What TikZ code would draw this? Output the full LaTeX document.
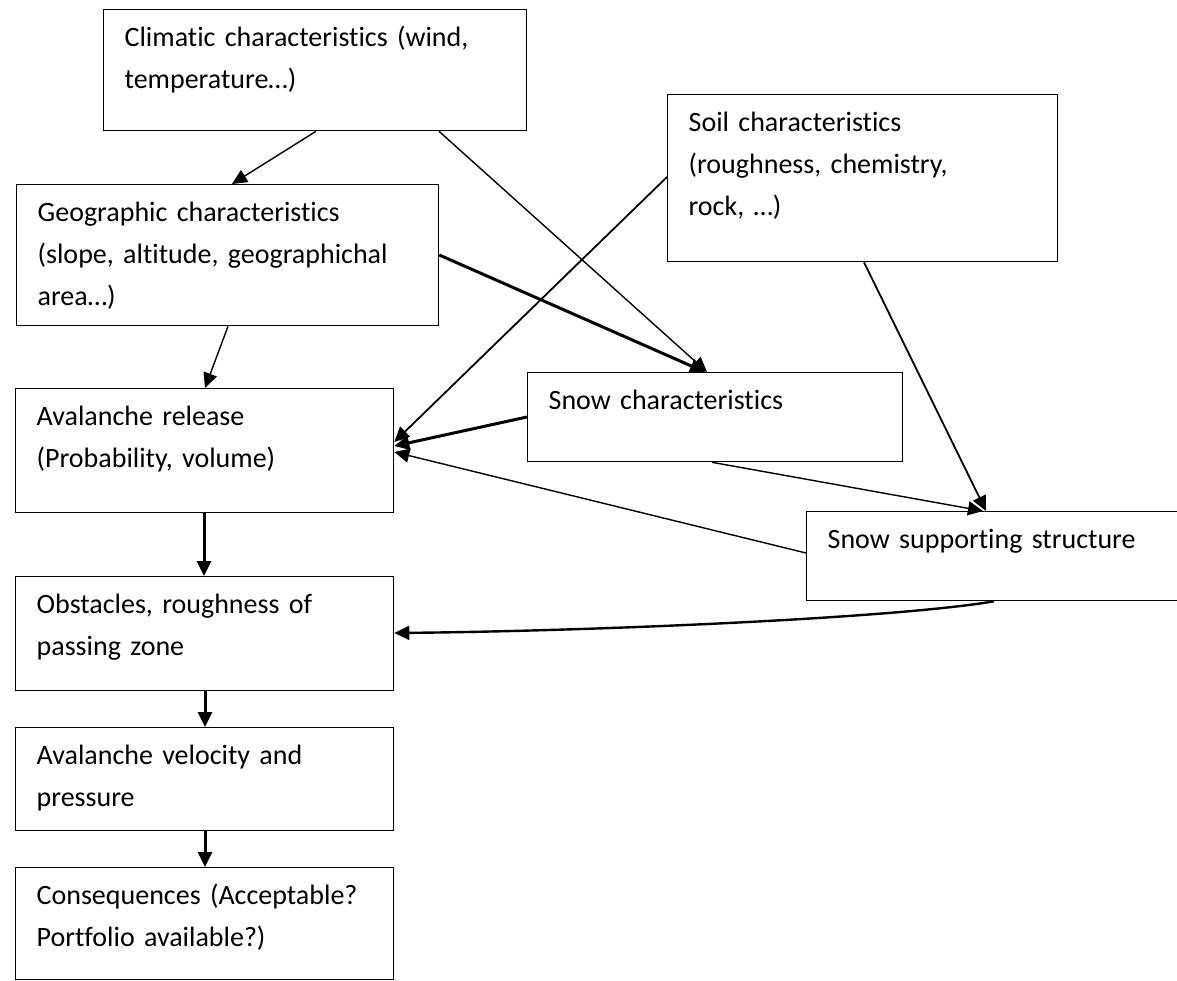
\documentclass[tikz,border=0pt]{standalone}
\usepackage{fontspec}
\setmainfont{Carlito}[Ligatures=NoCommon]
\usetikzlibrary{arrows.meta}

\begin{document}
\begin{tikzpicture}[x=1pt,y=-1pt,
  box/.style={draw,line width=1.3pt,anchor=north west,align=left,
    inner xsep=21pt,inner ysep=0pt,text height=37pt,
    font=\fontsize{28}{42}\selectfont},
  conn/.style={line width=1.4pt,-{Triangle[length=15pt,width=14pt]}},
  heavy/.style={conn,line width=3pt}]
\useasboundingbox (0,0) rectangle (1177,981);

% boxes
\node[box,text width=381pt,text depth=84pt] (clim) at (103,9)
  {Climatic characteristics (wind,\\temperature…)};
\node[box,text width=380pt,text depth=104pt] (geo) at (16,184)
  {Geographic characteristics\\(slope, altitude, geographichal\\area…)};
\node[box,text width=348pt,text depth=130pt] (soil) at (667,94)
  {Soil characteristics\\(roughness, chemistry,\\rock, …)};
\node[box,text width=333pt,text depth=52pt] (snow) at (527,372)
  {Snow characteristics};
\node[box,text width=358pt,text depth=52pt] (supp) at (806,511)
  {Snow supporting structure};
\node[box,text width=336pt,text depth=87pt] (release) at (15,388)
  {Avalanche release\\(Probability, volume)};
\node[box,text width=336pt,text depth=77pt] (obst) at (15,576)
  {Obstacles, roughness of\\passing zone};
\node[box,text width=336pt,text depth=66pt] (velo) at (15,727)
  {Avalanche velocity and\\pressure};
\node[box,text width=336pt,text depth=75pt] (cons) at (15,867)
  {Consequences (Acceptable?\\Portfolio available?)};

% links
\draw[conn] ([xshift=213pt]clim.south west) -- ([xshift=216pt]geo.north west);
\draw[conn] ([xshift=336pt]clim.south west) -- ([xshift=180pt]snow.north west);
\draw[heavy] ([yshift=-71pt]geo.north east) -- ([xshift=178pt]snow.north west);
\draw[conn,line width=1.8pt] ([yshift=-83pt]soil.north west) -- ([yshift=-54pt]release.north east);
\draw[heavy] ([yshift=-45pt]snow.north west) -- ([yshift=-58pt]release.north east);
\draw[conn] ([yshift=-42pt]supp.north west) -- ([yshift=-64pt]release.north east);
\draw[conn] ([xshift=185pt]snow.south west) -- ([xshift=177pt]supp.north west);
\draw[conn,line width=1.8pt] ([xshift=197pt]soil.south west) -- ([xshift=180pt]supp.north west);
\draw[conn,line width=2.4pt] ([xshift=188pt]supp.south west)
  .. controls +(-100,17) and +(200,-2) .. ([yshift=-57pt]obst.north east);
\draw[conn] ([xshift=212pt]geo.south west) -- ([xshift=190pt]release.north west);
\draw[heavy] ([xshift=189pt]release.south west) -- ([xshift=189pt]obst.north west);
\draw[heavy] ([xshift=190pt]obst.south west) -- ([xshift=190pt]velo.north west);
\draw[heavy] ([xshift=190pt]velo.south west) -- ([xshift=190pt]cons.north west);
\end{tikzpicture}
\end{document}
